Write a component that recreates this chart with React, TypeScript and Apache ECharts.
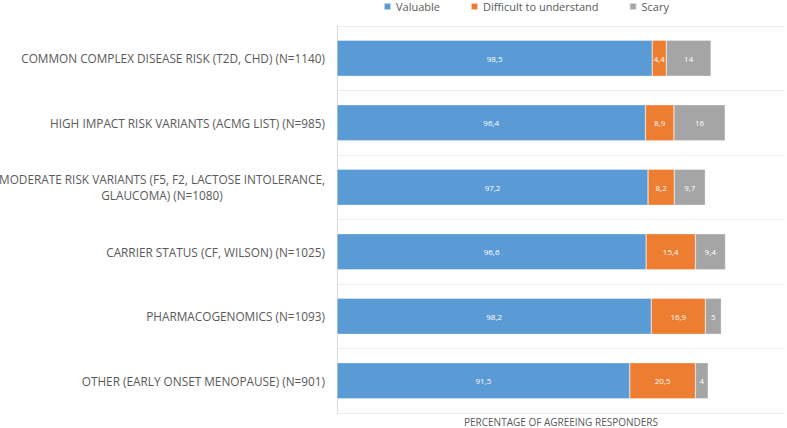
import React, { useEffect, useRef } from "react";
import * as echarts from "echarts";

const categories = [
  "COMMON COMPLEX DISEASE RISK (T2D, CHD) (N=1140)",
  "HIGH IMPACT RISK VARIANTS (ACMG LIST) (N=985)",
  "MODERATE RISK VARIANTS (F5, F2, LACTOSE INTOLERANCE,\nGLAUCOMA) (N=1080)",
  "CARRIER STATUS (CF, WILSON) (N=1025)",
  "PHARMACOGENOMICS (N=1093)",
  "OTHER (EARLY ONSET MENOPAUSE) (N=901)",
];
const valuable = [98.5, 96.4, 97.2, 96.6, 98.2, 91.5];
const difficult = [4.4, 8.9, 8.2, 15.4, 16.9, 20.5];
const scary = [14, 16, 9.7, 9.4, 5, 4];

const FONT = "'Open Sans', sans-serif";

export default function App() {
  const ref = useRef<HTMLDivElement>(null);
  useEffect(() => {
    const chart = echarts.init(ref.current!, null, { renderer: "svg" });
    const labelFmt = (p: any) => String(p.value).replace(".", ",");
    const mk = (name: string, data: number[], color: string) => ({
      name,
      type: "bar",
      stack: "total",
      data,
      barWidth: 36,
      itemStyle: { color, borderColor: "rgba(255,255,255,0.6)", borderWidth: 0.5 },
      label: {
        show: true,
        position: "inside",
        color: "#ffffff",
        fontSize: 8,
        fontFamily: FONT,
        formatter: labelFmt,
      },
    });
    chart.setOption({
      animation: false,
      backgroundColor: "#ffffff",
      legend: {
        left: 383,
        top: 1,
        padding: 0,
        itemWidth: 7,
        itemHeight: 7,
        itemGap: 30,
        icon: "rect",
        textStyle: { color: "#595959", fontSize: 11, fontFamily: FONT },
        data: ["Valuable", "Difficult to understand", "Scary"],
      },
      grid: {
        left: 337,
        right: 2,
        top: 26,
        bottom: 15,
        containLabel: false,
        outerBoundsMode: "none",
      },
      xAxis: {
        type: "value",
        min: 0,
        max: 140,
        axisLabel: { show: false },
        axisTick: { show: false },
        axisLine: { show: false },
        splitLine: { show: false },
        name: "PERCENTAGE OF AGREEING RESPONDERS",
        nameLocation: "middle",
        nameGap: 3,
        nameTextStyle: {
          color: "#595959",
          fontSize: 10,
          lineHeight: 11,
          fontFamily: FONT,
          verticalAlign: "top",
        },
      },
      yAxis: {
        type: "category",
        inverse: true,
        data: categories,
        axisTick: { show: false },
        axisLine: { show: true, lineStyle: { color: "#d9d9d9", width: 1 } },
        splitLine: { show: true, lineStyle: { color: "#ececec", width: 1 } },
        axisLabel: {
          margin: 12,
          color: "#595959",
          fontSize: 11.8,
          fontFamily: FONT,
          formatter: (v: string) =>
            v
              .split("\n")
              .map((l) => `{c|${l}}`)
              .join("\n"),
          rich: {
            c: {
              align: "center",
              color: "#595959",
              fontSize: 11.8,
              fontFamily: FONT,
              lineHeight: 16,
            },
          },
        },
      },
      series: [
        mk("Valuable", valuable, "#5b9bd5"),
        mk("Difficult to understand", difficult, "#ed7d31"),
        mk("Scary", scary, "#a5a5a5"),
      ],
    });
    return () => chart.dispose();
  }, []);
  return (
    <div
      ref={ref}
      style={{ position: "fixed", left: 0, top: 0, width: 787, height: 428 }}
    />
  );
}
